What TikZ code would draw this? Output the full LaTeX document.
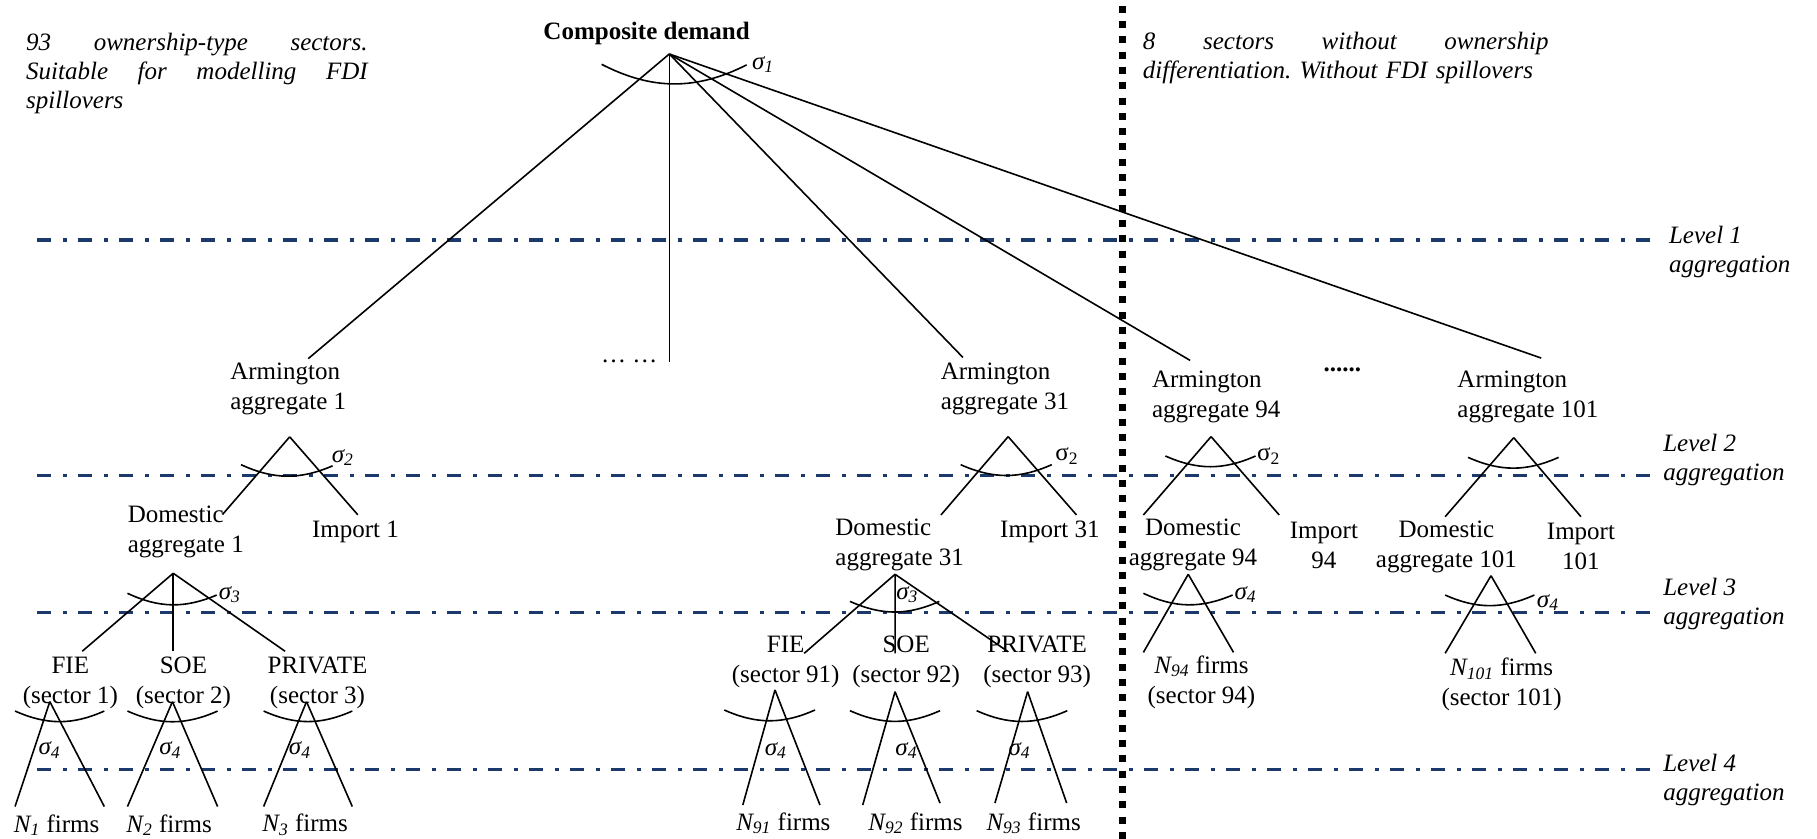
\documentclass[tikz,border=0pt]{standalone}
\usepackage{fontspec}
\setmainfont{Liberation Serif}
\usetikzlibrary{calc}
\definecolor{lvlnavy}{HTML}{1B3A6B}
\frenchspacing
\newcommand{\sgi}[1]{\textit{σ\textsubscript{#1}}}
\newcommand{\sgu}[1]{σ\textsubscript{#1}}
\newcommand{\nfirms}[1]{\textit{N\textsubscript{#1}} firms}

\begin{document}
\begin{tikzpicture}[
  x=0.5794pt, y=-0.5794pt,
  lbl/.style={font=\fontsize{12.5}{15}\selectfont, align=center, inner sep=0pt},
  lblL/.style={lbl, align=left, anchor=west},
  note/.style={font=\fontsize{12.5}{14.5}\selectfont\itshape, align=left, anchor=west, inner sep=0pt},
  sig/.style={font=\fontsize{12.5}{15}\selectfont, anchor=west, inner sep=0pt},
  leg/.style={line width=0.8pt},
  lvline/.style={draw=lvlnavy, line width=1.7pt, dash pattern=on 7.2pt off 5.8pt on 2pt off 5.5pt},
  divline/.style={line width=3.5pt, dash pattern=on 3.5pt off 4.15pt}
]
\useasboundingbox (0,0) rectangle (1568,724);

% aggregation levels
\draw[lvline] (32,207.1) -- (1432,207.1);
\draw[lvline] (32,410.5) -- (1432,410.5);
\draw[lvline] (32,528.7) -- (1432,528.7);
\draw[lvline] (32,663.9) -- (1432,663.9);
\node[note] (lev1) at (1440,217.4) {Level 1\\aggregation};
\node[note] (lev2) at (1435,397) {Level 2\\aggregation};
\node[note] (lev3) at (1435,521.5) {Level 3\\aggregation};
\node[note] (lev4) at (1435,673) {Level 4\\aggregation};

% divider and notes
\draw[divline] (968.5,5) -- (968.5,726);
\node[note, text width=170.7pt] (notel) at (22.3,63.3) {93\hfill ownership-type\hfill sectors.\\ Suitable\hfill for\hfill modelling\hfill FDI\\ spillovers};
\node[note, text width=202.8pt] (noter) at (986,49.7) {8\hfill sectors\hfill without\hfill ownership\\ differentiation. Without FDI spillovers};

% top
\node[lbl, font=\fontsize{12.5}{15}\selectfont\bfseries] (comp) at (558,29) {Composite demand};
\coordinate (cd) at (577.6,46.6);

% Armington aggregates
\node[lblL] (arm1) at (198.4,336) {Armington\\aggregate 1};
\node[lbl] (dots1) at (543,312) {…\ …};
\node[lblL] (arm31) at (811.5,336) {Armington\\aggregate 31};
\node[lblL] (arm94) at (993.8,342.5) {Armington\\aggregate 94};
\node[lbl, font=\fontsize{12.5}{15}\selectfont\bfseries] (dots2) at (1158.5,319.3) {......};
\node[lblL] (arm101) at (1257.4,342.5) {Armington\\aggregate 101};

% ownership-type sectors (left)
\node[lblL] (dom1) at (110,459) {Domestic\\aggregate 1};
\node[lbl] (imp1) at (306.8,458.8) {Import 1};
\node[lbl] (fie1) at (60.7,589) {FIE\\(sector 1)};
\node[lbl] (soe1) at (158.3,589) {SOE\\(sector 2)};
\node[lbl] (priv1) at (274,589) {PRIVATE\\(sector 3)};
\node[lbl] (n1) at (48.8,712) {\nfirms{1}};
\node[lbl] (n2) at (146,712) {\nfirms{2}};
\node[lbl] (n3) at (263.3,712) {\nfirms{3}};

% ownership-type sectors (middle)
\node[lblL] (dom31) at (720.6,470) {Domestic\\aggregate 31};
\node[lbl] (imp31) at (906,458.8) {Import 31};
\node[lbl] (fie91) at (678,571.5) {FIE\\(sector 91)};
\node[lbl] (soe92) at (782,571.5) {SOE\\(sector 92)};
\node[lbl] (priv93) at (895,571.5) {PRIVATE\\(sector 93)};
\node[lbl] (n91) at (676,710.5) {\nfirms{91}};
\node[lbl] (n92) at (790,710.5) {\nfirms{92}};
\node[lbl] (n93) at (892,710.5) {\nfirms{93}};

% sectors without ownership split
\node[lbl] (dom94) at (1029.5,470.3) {Domestic\\aggregate 94};
\node[lbl] (imp94) at (1142.5,470.3) {Import\\94};
\node[lbl] (dom101) at (1248.2,471.8) {Domestic\\aggregate 101};
\node[lbl] (imp101) at (1364.3,471.8) {Import\\101};
\node[lbl] (n94) at (1036.8,588.7) {\nfirms{94}\\(sector 94)};
\node[lbl] (n101) at (1295.8,590.8) {\nfirms{101}\\(sector 101)};

% level 1 nest
\draw[leg] (cd) -- ($(arm1.west)+(67.6,-26.5)$);
\draw[leg] (cd) -- (cd |- dots1);
\draw[leg] (cd) -- ($(arm31.west)+(19.5,-27.5)$);
\draw[leg] (cd) -- ($(arm94.west)+(33.2,-31.5)$);
\draw[leg] (cd) -- ($(arm101.west)+(72.6,-33.5)$);
\draw[leg] ($(cd)+(-58.4,8.9)$) to[bend right=27] ($(cd)+(66.7,9.4)$);
\node[sig] (sg1) at (648.7,55.6) {\sgi{1}};

% level 2 nests
\coordinate (s2a) at (250,377);
\draw[leg] (s2a) -- ($(dom1.west)+(82,-15)$);
\draw[leg] (s2a) -- ($(imp1)+(2,-14.5)$);
\draw[leg] ($(s2a)+(-42,24)$) to[bend right=24] ($(s2a)+(37,25)$);
\node[sig] (sg2a) at (286,395) {\sgi{2}};

\coordinate (s2b) at (870,376.8);
\draw[leg] (s2b) -- ($(dom31.west)+(91.4,-25.6)$);
\draw[leg] (s2b) -- ($(imp31)+(23,-14.4)$);
\draw[leg] ($(s2b)+(-41,24.2)$) to[bend right=24] ($(s2b)+(37.6,24.2)$);
\node[sig] (sg2b) at (910.4,393.6) {\sgu{2}};

\coordinate (s2c) at (1045.1,376.8);
\draw[leg] (s2c) -- ($(dom94)+(-42.8,-25.9)$);
\draw[leg] (s2c) -- ($(imp94)+(-38.6,-25.9)$);
\draw[leg] ($(s2c)+(-39.4,16.7)$) to[bend right=24] ($(s2c)+(38.4,16.7)$);
\node[sig] (sg2c) at (1084.6,393.6) {\sgu{2}};

\coordinate (s2d) at (1306.3,377.7);
\draw[leg] (s2d) -- ($(dom101)+(-1.1,-25.9)$);
\draw[leg] (s2d) -- ($(imp101)+(0,-25.9)$);
\draw[leg] ($(s2d)+(-39.4,17)$) to[bend right=24] ($(s2d)+(38.7,17)$);

% level 3 nests
\coordinate (s3a) at (149.5,494.7);
\draw[leg] (s3a) -- ($(fie1)+(10.3,-27)$);
\draw[leg] (s3a) -- ($(soe1)+(-8.8,-27)$);
\draw[leg] (s3a) -- ($(priv1)+(-28,-27)$);
\draw[leg] ($(s3a)+(-39.5,17.3)$) to[bend right=24] ($(s3a)+(37.5,18.8)$);
\node[sig] (sg3a) at (188.5,513) {\sgi{3}};

\coordinate (s3b) at (772.4,495.6);
\draw[leg] (s3b) -- ($(fie91)+(16,-7.7)$);
\draw[leg] (s3b) -- ($(soe92)+(-9.6,-7.7)$);
\draw[leg] (s3b) -- ($(priv93)+(-25,-9.1)$);
\draw[leg] ($(s3b)+(-38.9,23.4)$) to[bend right=24] ($(s3b)+(38.2,23.4)$);
\node[sig] (sg3b) at (773.2,513) {\sgi{3}};

\coordinate (s3c) at (1025.4,495.6);
\draw[leg] (s3c) -- ($(n94)+(-50.1,-25.7)$);
\draw[leg] (s3c) -- ($(n94)+(27.7,-25.7)$);
\draw[leg] ($(s3c)+(-38.7,16.4)$) to[bend right=24] ($(s3c)+(38.3,17.9)$);
\node[sig] (sg3c) at (1065,513) {\sgi{4}};

\coordinate (s3d) at (1286.7,496.8);
\draw[leg] (s3d) -- ($(n101)+(-48.7,-27)$);
\draw[leg] (s3d) -- ($(n101)+(29.5,-27)$);
\draw[leg] ($(s3d)+(-39.6,16.7)$) to[bend right=24] ($(s3d)+(37.4,16.7)$);
\node[sig] (sg3d) at (1326,520) {\sgi{4}};

% level 4 nests
\coordinate (s4a) at (43,605.5);
\draw[leg] (s4a) -- ($(n1)+(-35.8,-16)$);
\draw[leg] (s4a) -- ($(n1)+(41.2,-16)$);
\draw[leg] ($(s4a)+(-30,8.1)$) to[bend right=24] ($(s4a)+(47,8.1)$);
\node[sig] (sg4a) at (33,647.5) {\sgi{4}};

\coordinate (s4b) at (148.8,605.5);
\draw[leg] (s4b) -- ($(n2)+(-36,-16)$);
\draw[leg] (s4b) -- ($(n2)+(41.8,-16)$);
\draw[leg] ($(s4b)+(-38.8,8.1)$) to[bend right=24] ($(s4b)+(39,8.1)$);
\node[sig] (sg4b) at (137.2,647.5) {\sgi{4}};

\coordinate (s4c) at (264.5,605.5);
\draw[leg] (s4c) -- ($(n3)+(-35.8,-16)$);
\draw[leg] (s4c) -- ($(n3)+(40.7,-16)$);
\draw[leg] ($(s4c)+(-37,8.1)$) to[bend right=24] ($(s4c)+(39.5,8.1)$);
\node[sig] (sg4c) at (249,647.5) {\sgi{4}};

\coordinate (s4d) at (668.8,595.4);
\draw[leg] (s4d) -- ($(n91)+(-35,-15.8)$);
\draw[leg] (s4d) -- ($(n91)+(31.6,-15.8)$);
\draw[leg] ($(s4d)+(-43.8,17.3)$) to[bend right=24] ($(s4d)+(34.5,17.3)$);
\node[sig] (sg4d) at (659.6,647.6) {\sgi{4}};

\coordinate (s4e) at (772.4,596.9);
\draw[leg] (s4e) -- ($(n92)+(-45.5,-15.8)$);
\draw[leg] (s4e) -- ($(n92)+(21.2,-17.5)$);
\draw[leg] ($(s4e)+(-38.9,16.4)$) to[bend right=24] ($(s4e)+(38.8,16.4)$);
\node[sig] (sg4e) at (772.4,647.6) {\sgi{4}};

\coordinate (s4f) at (886.8,596.9);
\draw[leg] (s4f) -- ($(n93)+(-33.4,-17.5)$);
\draw[leg] (s4f) -- ($(n93)+(28.5,-17.5)$);
\draw[leg] ($(s4f)+(-44,16.4)$) to[bend right=24] ($(s4f)+(34.2,16.4)$);
\node[sig] (sg4f) at (870,647.6) {\sgi{4}};

\end{tikzpicture}
\end{document}
